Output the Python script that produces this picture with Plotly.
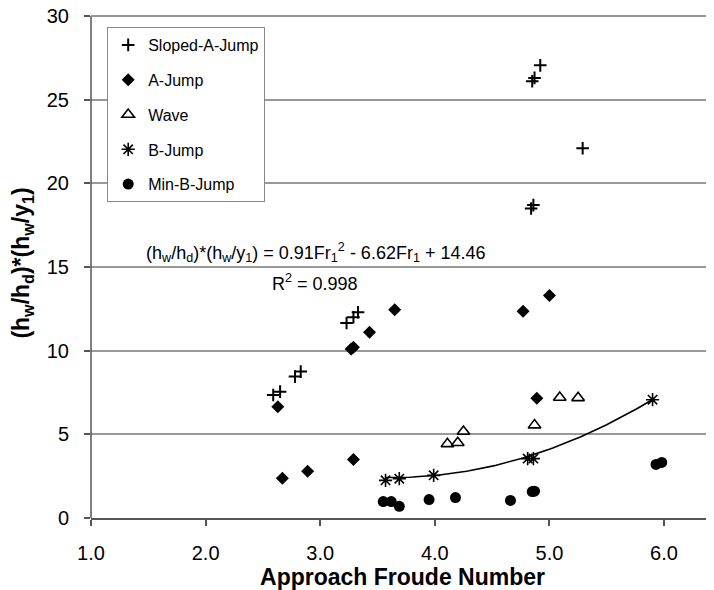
import numpy as np
import plotly.graph_objects as go

# ---- data ----
sloped_x = [2.59, 2.65, 2.78, 2.83, 3.23, 3.29, 3.33, 4.84, 4.86, 4.85, 4.87, 4.92, 5.29]
sloped_y = [7.35, 7.55, 8.45, 8.75, 11.65, 12.0, 12.3, 18.5, 18.7, 26.1, 26.3, 27.05, 22.1]

ajump_x = [2.63, 2.67, 2.89, 3.29, 3.27, 3.29, 3.43, 3.65, 4.77, 5.00, 4.89]
ajump_y = [6.65, 2.37, 2.80, 3.50, 10.1, 10.2, 11.1, 12.45, 12.35, 13.3, 7.15]

wave_x = [4.11, 4.20, 4.25, 4.87, 5.09, 5.25]
wave_y = [4.43, 4.50, 5.17, 5.55, 7.20, 7.18]

bjump_x = [3.57, 3.69, 3.99, 4.81, 4.86, 5.90]
bjump_y = [2.25, 2.35, 2.55, 3.55, 3.55, 7.07]

minb_x = [3.55, 3.62, 3.69, 3.95, 4.18, 4.66, 4.85, 4.87, 5.93, 5.98]
minb_y = [0.98, 0.98, 0.70, 1.10, 1.22, 1.05, 1.58, 1.60, 3.20, 3.32]

fit_coef = [0.91, -6.62, 14.46]   # quadratic trendline on B-Jump
x_ticks = [1.0, 2.0, 3.0, 4.0, 5.0, 6.0]
x_tick_labels = ["1.0", "2.0", "3.0", "4.0", "5.0", "6.0"]
y_ticks = [0, 5, 10, 15, 20, 25, 30]
y_max = 30

FONT = "Arial, Liberation Sans, sans-serif"

# page body has an 8px default margin, so the figure is offset by (8, 8).
# The plot area starts at the top of the figure; the y range is extended by
# 8 px so that the 30 gridline lands where the reference frame top is.
FIG_H = 582
MARGIN_B = 72
PLOT_H = FIG_H - MARGIN_B          # 510 px
PX_PER_UNIT = 502 / y_max          # reference scale
y_top = PLOT_H / PX_PER_UNIT

fig = go.Figure()

fig.add_trace(go.Scatter(
    x=sloped_x, y=sloped_y, mode="markers", name="Sloped-A-Jump",
    legendgroup="a",
    marker=dict(symbol="cross-thin-open", size=9, color="black",
                line=dict(color="black", width=2))))
fig.add_trace(go.Scatter(
    x=ajump_x, y=ajump_y, mode="markers", name="A-Jump",
    legendgroup="b",
    marker=dict(symbol="diamond", size=10, color="black",
                line=dict(width=0))))
fig.add_trace(go.Scatter(
    x=wave_x, y=wave_y, mode="markers", name="Wave",
    legendgroup="c",
    marker=dict(symbol="triangle-up-open", size=11, color="black",
                line=dict(color="black", width=1.6))))
fig.add_trace(go.Scatter(
    x=bjump_x, y=bjump_y, mode="markers", name="B-Jump",
    legendgroup="d",
    marker=dict(symbol="asterisk-open", size=11, color="black",
                line=dict(color="black", width=1.6))))
fig.add_trace(go.Scatter(
    x=minb_x, y=minb_y, mode="markers", name="Min-B-Jump",
    legendgroup="e",
    marker=dict(symbol="circle", size=11, color="black",
                line=dict(width=0))))

fx = np.linspace(min(bjump_x), max(bjump_x), 100)
fy = np.polyval(fit_coef, fx)
fig.add_trace(go.Scatter(x=fx, y=fy, mode="lines", showlegend=False,
                         line=dict(color="black", width=1.6), hoverinfo="skip"))

fig.add_annotation(
    x=2.955, y=15.87, xref="x", yref="y", showarrow=False,
    text="(h<sub>w</sub>/h<sub>d</sub>)*(h<sub>w</sub>/y<sub>1</sub>) = 0.91Fr<sub>1</sub><sup>2</sup> - 6.62Fr<sub>1</sub> + 14.46",
    font=dict(family=FONT, size=18, color="black"))
fig.add_annotation(
    x=2.955, y=14.1, xref="x", yref="y", showarrow=False,
    text="R<sup>2</sup> = 0.998",
    font=dict(family=FONT, size=18, color="black"))

# left axis line only from 0 up to the top gridline
fig.add_shape(type="line", xref="paper", yref="y", x0=0, x1=0, y0=0, y1=y_max,
              line=dict(color="#555555", width=1.5), layer="above")
# top gridline drawn explicitly as well
fig.add_shape(type="line", xref="paper", yref="y", x0=0, x1=1, y0=y_max, y1=y_max,
              line=dict(color="#999999", width=1.5), layer="above")

fig.update_layout(
    width=706, height=FIG_H,
    margin=dict(l=83, r=0, t=0, b=MARGIN_B, autoexpand=False),
    paper_bgcolor="white", plot_bgcolor="white",
    font=dict(family=FONT, size=20, color="black"),
    showlegend=True,
    legend=dict(x=0.026, y=1 - 19 / PLOT_H, xanchor="left", yanchor="top",
                bordercolor="#888888", borderwidth=1, bgcolor="white",
                font=dict(family=FONT, size=16, color="black"),
                traceorder="grouped", tracegroupgap=11,
                itemwidth=30),
)

fig.update_xaxes(
    range=[1.0, 6.436], tickvals=x_ticks, ticktext=x_tick_labels,
    showgrid=False, zeroline=False,
    showline=True, linecolor="#555555", linewidth=1.5,
    ticks="outside", ticklen=6, tickcolor="#555555", tickwidth=1.5,
    ticklabelstandoff=10,
    tickfont=dict(family=FONT, size=20, color="black"),
    title=dict(text="<b>Approach Froude Number</b>", standoff=2,
               font=dict(family=FONT, size=23, color="black")),
    automargin=False,
)
fig.update_yaxes(
    range=[0, y_top], tickvals=y_ticks,
    showgrid=True, gridcolor="#999999", gridwidth=1.5, zeroline=False,
    showline=False,
    ticks="outside", ticklen=6, tickcolor="#555555", tickwidth=1.5,
    ticklabelstandoff=11, ticklabeloverflow="allow",
    tickfont=dict(family=FONT, size=20, color="black"),
    title=dict(text="<b>(h<sub>w</sub>/h<sub>d</sub>)*(h<sub>w</sub>/y<sub>1</sub>)</b>",
               standoff=11, font=dict(family=FONT, size=23, color="black")),
    automargin=False,
)

fig.write_html("out.html")
